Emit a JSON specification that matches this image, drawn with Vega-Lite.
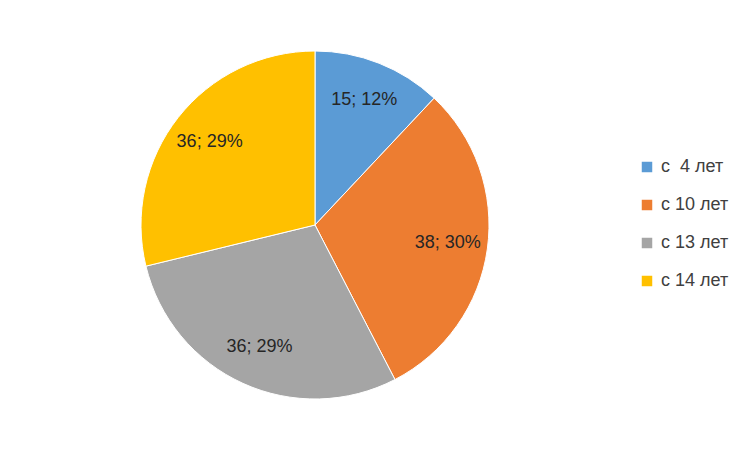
{
  "$schema": "https://vega.github.io/schema/vega-lite/v6.json",
  "width": 630,
  "height": 450,
  "autosize": {"type": "none"},
  "padding": {"left": 0, "top": 0, "right": 120, "bottom": 0},
  "background": "white",
  "config": {"view": {"stroke": null}},
  "data": {
    "values": [
      {"group": "с \u00a04 лет", "value": 15, "label": "15; 12%", "order": 1},
      {"group": "с 10 лет", "value": 38, "label": "38; 30%", "order": 2},
      {"group": "с 13 лет", "value": 36, "label": "36; 29%", "order": 3},
      {"group": "с 14 лет", "value": 36, "label": "36; 29%", "order": 4}
    ]
  },
  "encoding": {
    "theta": {"field": "value", "type": "quantitative", "stack": true},
    "order": {"field": "order", "type": "quantitative"}
  },
  "layer": [
    {
      "mark": {"type": "arc", "outerRadius": 174, "stroke": "white", "strokeWidth": 1},
      "encoding": {
        "color": {
          "field": "group",
          "type": "nominal",
          "scale": {
            "domain": ["с \u00a04 лет", "с 10 лет", "с 13 лет", "с 14 лет"],
            "range": ["#5B9BD5", "#ED7D31", "#A5A5A5", "#FFC000"]
          },
          "legend": {
            "title": null,
            "orient": "none",
            "legendX": 638,
            "legendY": 158,
            "symbolType": "square",
            "symbolSize": 110,
            "symbolStrokeWidth": 0,
            "labelFontSize": 18,
            "labelFont": "Liberation Sans",
            "labelColor": "#404040",
            "labelOffset": 5,
            "rowPadding": 20
          }
        }
      }
    },
    {
      "mark": {"type": "text", "radius": 134, "fontSize": 18, "font": "Liberation Sans", "color": "#262626"},
      "encoding": {"text": {"field": "label", "type": "nominal"}}
    }
  ]
}
